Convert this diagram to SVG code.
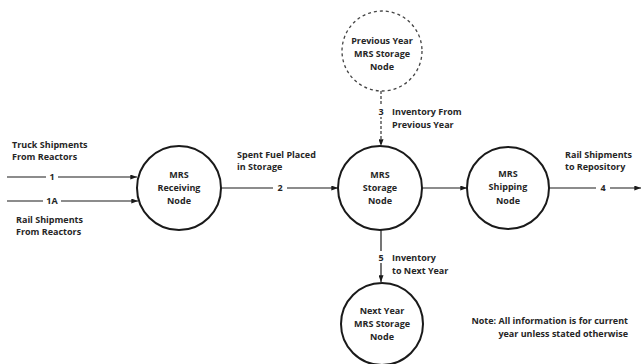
<svg xmlns="http://www.w3.org/2000/svg" width="643" height="364" viewBox="0 0 643 364">
<defs>
<marker id="ah" viewBox="0 0 8 6" refX="8" refY="3" markerWidth="7" markerHeight="5" markerUnits="userSpaceOnUse" orient="auto">
<path d="M0,0 L8,3 L0,6 Z" fill="#1a1a1a"/>
</marker>
<style>
.n{fill:#fff;stroke:#1a1a1a;stroke-width:2}
.d{fill:#fff;stroke:#444;stroke-width:1.3;stroke-dasharray:3 3}
.c{fill:none;stroke:#1a1a1a;stroke-width:1.2}
.cd{fill:none;stroke:#333;stroke-width:1.2;stroke-dasharray:3 2}
text{font-family:"Open Sans","Liberation Sans",Arial,sans-serif;font-size:9px;font-weight:bold;fill:#262626}
.m{text-anchor:middle}
.e{text-anchor:end}
</style>
</defs>
<rect width="643" height="364" fill="#fff"/>
<g id="connectors">
<line class="c" x1="7" y1="177" x2="137" y2="177" marker-end="url(#ah)"/>
<line class="c" x1="7" y1="201" x2="138" y2="201" marker-end="url(#ah)"/>
<line class="c" x1="221" y1="188" x2="338" y2="188" marker-end="url(#ah)"/>
<line class="c" x1="422" y1="188" x2="467" y2="188" marker-end="url(#ah)"/>
<line class="c" x1="549" y1="188" x2="641" y2="188" marker-end="url(#ah)"/>
<line class="cd" x1="381" y1="91" x2="381" y2="146" marker-end="url(#ah)"/>
<line class="c" x1="381" y1="230" x2="381" y2="282" marker-end="url(#ah)"/>
<rect x="46" y="172" width="12" height="10" fill="#fff"/>
<rect x="43" y="196" width="18" height="10" fill="#fff"/>
<rect x="273" y="183" width="14" height="10" fill="#fff"/>
<rect x="596" y="183" width="14" height="10" fill="#fff"/>
<rect x="376" y="105" width="10" height="12" fill="#fff"/>
<rect x="376" y="251" width="10" height="12" fill="#fff"/>
<text class="m" x="52" y="180">1</text>
<text class="m" x="52" y="204">1A</text>
<text class="m" x="280" y="191">2</text>
<text class="m" x="603" y="191">4</text>
<text class="m" x="381" y="115">3</text>
<text class="m" x="381" y="261">5</text>
</g>
<g id="receiving">
<circle class="n" cx="179" cy="188" r="42"/>
<text class="m" x="179" y="178">MRS</text>
<text class="m" x="179" y="191">Receiving</text>
<text class="m" x="179" y="204">Node</text>
</g>
<g id="storage">
<circle class="n" cx="380" cy="188" r="42"/>
<text class="m" x="380" y="178">MRS</text>
<text class="m" x="380" y="191">Storage</text>
<text class="m" x="380" y="204">Node</text>
</g>
<g id="shipping">
<circle class="n" cx="508" cy="188" r="41"/>
<text class="m" x="508" y="177">MRS</text>
<text class="m" x="508" y="190">Shipping</text>
<text class="m" x="508" y="204">Node</text>
</g>
<g id="previous">
<circle class="d" cx="382" cy="51" r="40"/>
<text class="m" x="382" y="44">Previous Year</text>
<text class="m" x="382" y="57">MRS Storage</text>
<text class="m" x="382" y="70">Node</text>
</g>
<g id="next">
<circle class="n" cx="382" cy="324" r="41" stroke-width="1.4"/>
<text class="m" x="382" y="314">Next Year</text>
<text class="m" x="382" y="327">MRS Storage</text>
<text class="m" x="382" y="340">Node</text>
</g>
<g id="labels">
<text x="12" y="148">Truck Shipments</text>
<text x="12" y="160">From Reactors</text>
<text x="16" y="223">Rail Shipments</text>
<text x="16" y="235">From Reactors</text>
<text x="237" y="158">Spent Fuel Placed</text>
<text x="237" y="170">in Storage</text>
<text x="565" y="158">Rail Shipments</text>
<text x="565" y="170">to Repository</text>
<text x="392" y="115">Inventory From</text>
<text x="392" y="128">Previous Year</text>
<text x="392" y="261">Inventory</text>
<text x="392" y="274">to Next Year</text>
<text class="e" x="628" y="324">Note:  All information is for current</text>
<text class="e" x="628" y="337">year unless stated otherwise</text>
</g>
</svg>
